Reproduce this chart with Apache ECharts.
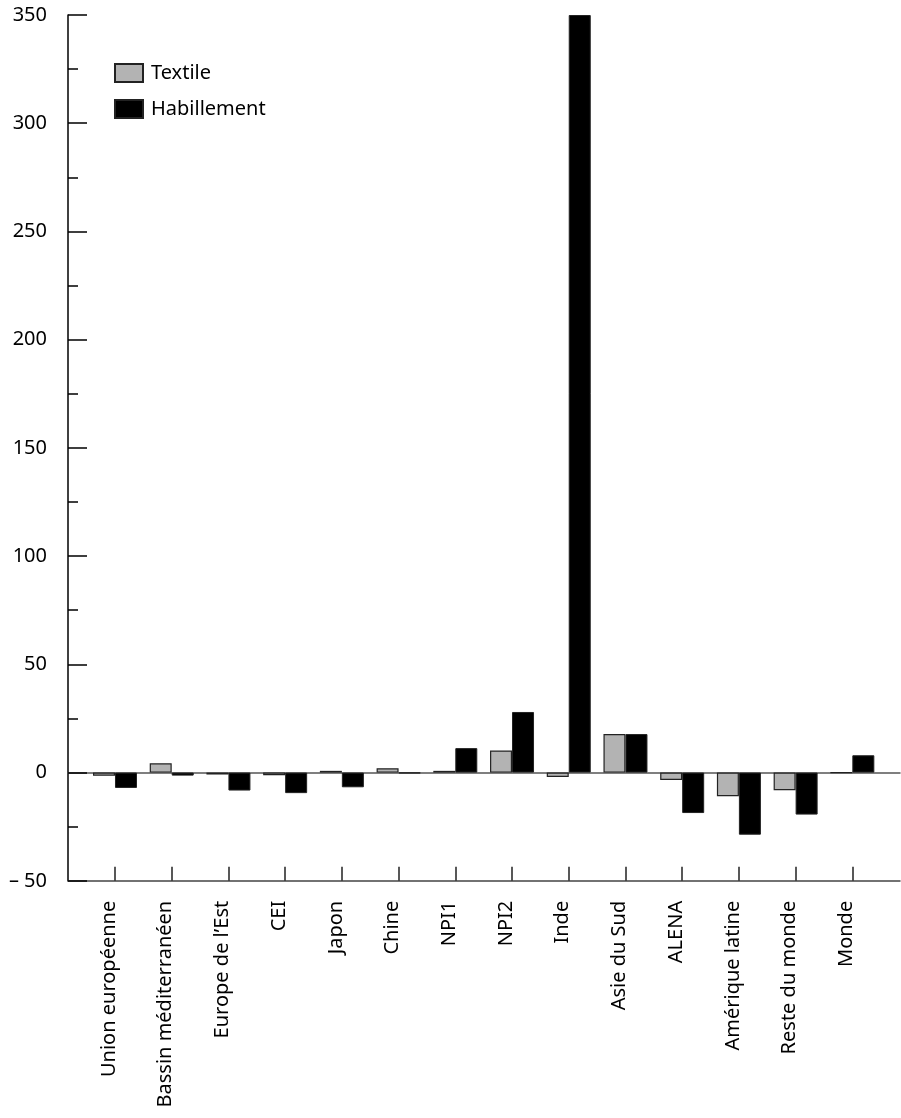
<!DOCTYPE html>
<html>
<head>
<meta charset="utf-8">
<script src="https://cdn.jsdelivr.net/npm/echarts@6/dist/echarts.min.js"></script>
<style>html,body{margin:0;padding:0;background:#fff}#c{width:901px;height:1118px}</style>
</head>
<body>
<div id="c"></div>
<script>
const categories = ['Union européenne','Bassin méditerranéen','Europe de l’Est','CEI','Japon','Chine','NPI1','NPI2','Inde','Asie du Sud','ALENA','Amérique latine','Reste du monde','Monde'];
const textile = [-1.5, 4.3, -0.9, -1.2, 0.8, 2.0, 0.8, 10.2, -2.0, 17.8, -3.4, -10.9, -8.2, 0];
const habillement = [-7.1, -1.4, -8.3, -9.5, -6.8, -0.3, 11.3, 28, 350, 17.8, -18.7, -28.7, -19.4, 8.0];
const yMin = -50, yMax = 350, yStep = 50;

const FONT = 'Noto Sans';
const chart = echarts.init(document.getElementById('c'), null, {renderer: 'canvas'});
const gTop = 15, gBottom = 237.2;
chart.setOption({
  animation: false,
  backgroundColor: '#fff',
  textStyle: {fontFamily: FONT},
  legend: {
    orient: 'vertical', left: 114, top: 63, padding: 0,
    itemWidth: 28, itemHeight: 18, itemGap: 16, icon: 'rect',
    textStyle: {fontSize: 20, color: '#000', fontFamily: FONT, padding: [0,0,0,3]},
    data: ['Textile', 'Habillement']
  },
  grid: [
    {left: 86.64, right: 20.3, top: gTop, bottom: gBottom},
    {left: 68, right: 1, top: gTop, bottom: gBottom},
    {left: 68, right: 1, top: gTop, bottom: gBottom}
  ],
  xAxis: [
    {
      type: 'category', gridIndex: 0, data: categories,
      axisLine: {show: false, onZero: false},
      axisTick: {show: true, inside: true, alignWithLabel: true, length: 14, lineStyle: {color: '#222', width: 1.5}},
      axisLabel: {rotate: 90, margin: 20, fontSize: 20, color: '#000', fontFamily: FONT, interval: 0,
                  verticalAlign: 'bottom', lineHeight: 12},
      splitLine: {show: false}
    },
    {
      type: 'value', gridIndex: 1, min: 0, max: 1,
      axisLine: {show: true, onZero: false, lineStyle: {color: '#444', width: 1.5}},
      axisTick: {show: false}, axisLabel: {show: false}, splitLine: {show: false}
    },
    {
      type: 'value', gridIndex: 2, min: 0, max: 1,
      axisLine: {show: true, onZero: true, lineStyle: {color: '#555', width: 1.5}},
      axisTick: {show: false}, axisLabel: {show: false}, splitLine: {show: false}
    }
  ],
  yAxis: [
    {
      type: 'value', gridIndex: 0, min: yMin, max: yMax, interval: yStep,
      show: false, splitLine: {show: false}
    },
    {
      type: 'value', gridIndex: 1, min: yMin, max: yMax, interval: yStep,
      axisLine: {show: true, lineStyle: {color: '#000', width: 1.5}},
      axisTick: {show: true, inside: true, length: 19, lineStyle: {color: '#000', width: 1.5}},
      minorTick: {show: true, splitNumber: 2, length: 10, lineStyle: {color: '#000', width: 1.5}},
      axisLabel: {
        margin: 21, fontSize: 20, color: '#000', fontFamily: FONT,
        formatter: v => v < 0 ? '– ' + Math.abs(v) : String(v)
      },
      splitLine: {show: false}
    },
    {
      type: 'value', gridIndex: 2, min: yMin, max: yMax, interval: yStep,
      show: false, splitLine: {show: false}
    }
  ],
  series: [
    {
      name: 'Textile', type: 'bar', xAxisIndex: 0, yAxisIndex: 0,
      data: textile, barWidth: 22, barGap: '0%',
      itemStyle: {color: '#b3b3b3', borderColor: '#222', borderWidth: 1.2}
    },
    {
      name: 'Habillement', type: 'bar', xAxisIndex: 0, yAxisIndex: 0,
      data: habillement, barWidth: 22, barGap: '0%',
      itemStyle: {color: '#000', borderColor: '#222', borderWidth: 1}
    }
  ]
});
</script>
</body>
</html>
